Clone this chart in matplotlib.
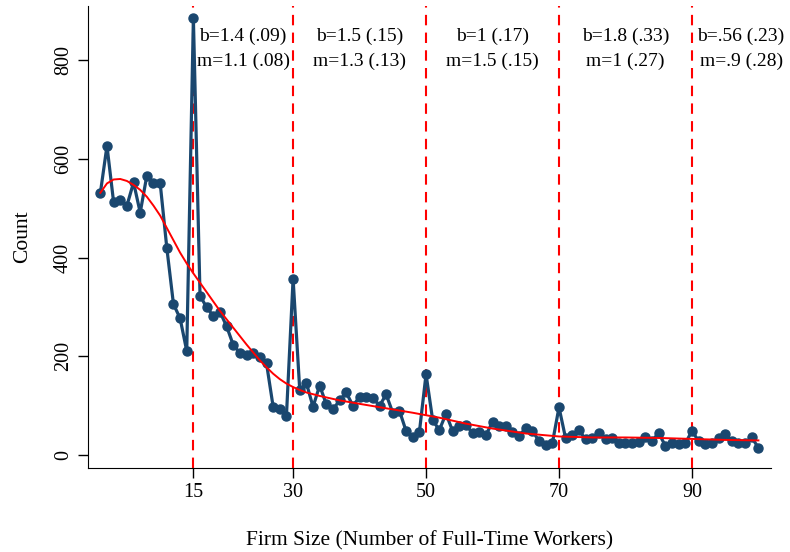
import matplotlib
matplotlib.use("Agg")
import matplotlib.pyplot as plt
import numpy as np

plt.rcParams['font.family'] = ['Liberation Serif', 'DejaVu Serif']

# firm size 1..100 and counts
sizes = list(range(1, 101))
counts = [530, 626, 512, 516, 505, 552, 491, 566, 550, 551,
          420, 306, 277, 211, 884, 323, 299, 282, 290, 261,
          223, 207, 202, 207, 198, 186, 98, 94, 80, 357,
          132, 146, 98, 141, 103, 93, 111, 127, 100, 118,
          117, 116, 100, 123, 86, 90, 49, 36, 47, 164,
          71, 51, 84, 49, 59, 61, 45, 47, 41, 67,
          59, 59, 47, 39, 55, 49, 29, 20, 24, 97,
          34, 41, 51, 32, 34, 46, 32, 34, 25, 25,
          24, 27, 37, 29, 45, 19, 24, 22, 24, 49,
          29, 23, 24, 34, 44, 29, 25, 24, 36, 15]

# smooth fit (red)
fit_x = [1, 2, 3, 4, 5, 6, 7, 8, 9, 10, 11, 12, 13, 14, 15, 17, 19, 21, 23, 25,
         26, 27, 28, 29, 30, 31, 32, 34, 37, 40, 44, 48, 52, 56, 60, 65, 70, 75,
         80, 85, 90, 95, 100]
fit_y = [531, 550, 558, 559, 555, 547, 537, 523, 505, 485, 460, 435, 410, 388, 368,
         330, 292, 258, 224, 192, 178, 165, 154, 145, 138, 132, 127, 120, 111,
         104, 95, 86, 76, 64, 54, 44, 38, 36, 36, 35, 33, 31, 30]

cutoffs = [15, 30, 50, 70, 90]
labels_b = ["b=1.4 (.09)", "b=1.5 (.15)", "b=1 (.17)", "b=1.8 (.33)", "b=.56 (.23)"]
labels_m = ["m=1.1 (.08)", "m=1.3 (.13)", "m=1.5 (.15)", "m=1 (.27)", "m=.9 (.28)"]
label_x = [22.5, 40, 60, 80, 97.4]

navy = "#1a476f"

fig = plt.figure(figsize=(7.9, 5.52), dpi=100)
ax = fig.add_axes([0.111, 0.152, 0.865, 0.838])

for c in cutoffs:
    ax.axvline(c, color="red", lw=1.5, ls=(0, (5, 3.5)), zorder=1)

ax.plot(sizes, counts, color=navy, lw=2.3, marker="o", ms=6.5,
        solid_joinstyle="miter", zorder=2)
ax.plot(fit_x, fit_y, color="red", lw=1.4, zorder=3)

for xt, b, m in zip(label_x, labels_b, labels_m):
    ax.text(xt, 847, b, ha="center", va="center", fontsize=14)
    ax.text(xt, 797, m, ha="center", va="center", fontsize=14)

ax.set_xlim(-0.9, 101.9)
ax.set_ylim(-26, 910)
ax.set_xticks(cutoffs)
ax.set_yticks([0, 200, 400, 600, 800])
ax.tick_params(direction="out", length=7, width=1, labelsize=14.5, colors="black")
for lab in ax.get_yticklabels():
    lab.set_rotation(90)
    lab.set_va("center")
ax.spines["top"].set_visible(False)
ax.spines["right"].set_visible(False)
ax.set_xlabel("Firm Size (Number of Full-Time Workers)", fontsize=15.5, labelpad=21)
ax.set_ylabel("Count", fontsize=15.5, labelpad=16)

fig.savefig("out.png", dpi=100)
